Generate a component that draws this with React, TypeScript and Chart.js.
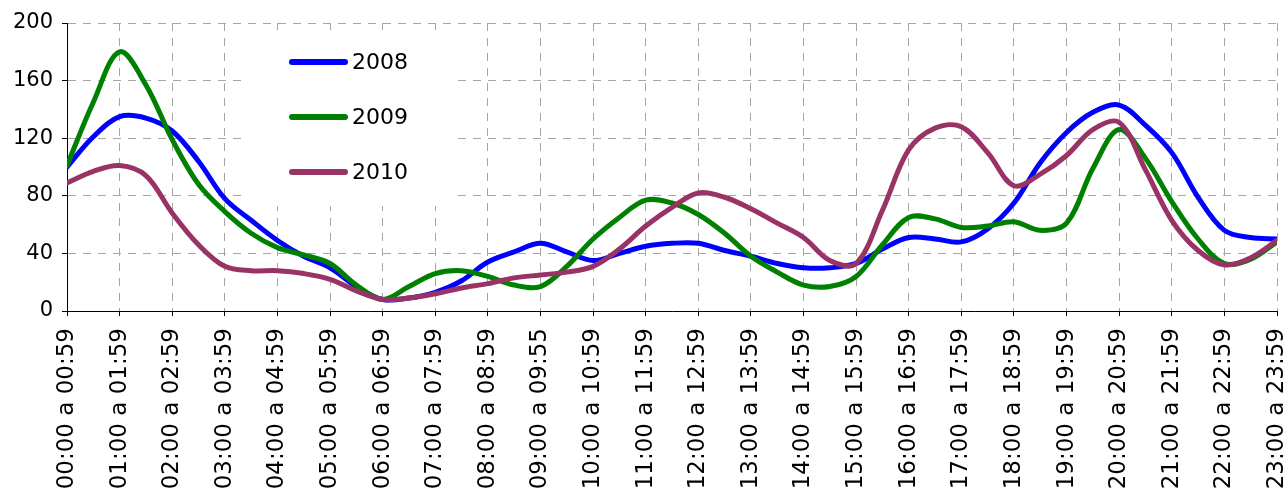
import { useEffect, useRef } from 'react';
import { Chart, registerables } from 'chart.js';

Chart.register(...registerables);

const hourLabels = [
  '00:00 a 00:59', '01:00 a 01:59', '02:00 a 02:59', '03:00 a 03:59',
  '04:00 a 04:59', '05:00 a 05:59', '06:00 a 06:59', '07:00 a 07:59',
  '08:00 a 08:59', '09:00 a 09:55', '10:00 a 10:59', '11:00 a 11:59',
  '12:00 a 12:59', '13:00 a 13:59', '14:00 a 14:59', '15:00 a 15:59',
  '16:00 a 16:59', '17:00 a 17:59', '18:00 a 18:59', '19:00 a 19:59',
  '20:00 a 20:59', '21:00 a 21:59', '22:00 a 22:59', '23:00 a 23:59',
];

// sample positions (hours from 00:00)
const hours = [
  0, 0.5, 1, 1.5, 2, 2.5, 3, 3.5, 4, 4.5, 5, 5.5, 6, 6.5, 7, 7.5,
  8, 8.5, 9, 9.5, 10, 10.5, 11, 11.5, 12, 12.5, 13, 13.5, 14, 14.5, 15, 15.5,
  16, 16.5, 17, 17.5, 18, 18.5, 19, 19.5, 20, 20.5, 21, 21.5, 22, 22.5, 23,
];

const values2008 = [
  100, 121, 135, 134, 125, 104, 78, 63, 49, 38, 30, 17, 8, 9, 13, 21,
  34, 41, 47, 41, 35, 40, 45, 47, 47, 42, 38, 33, 30, 30, 33, 43,
  51, 50, 48, 57, 75, 103, 124, 138, 143, 129, 110, 79, 56, 51, 50,
];

const values2009 = [
  101, 145, 180, 157, 119, 88, 69, 54, 44, 39, 33, 18, 8, 17, 26, 28,
  24, 18, 17, 31, 50, 65, 77, 75, 67, 54, 38, 27, 18, 17, 24, 46,
  65, 64, 58, 59, 62, 56, 61, 99, 126, 106, 76, 50, 33, 36, 48,
];

const values2010 = [
  89, 97, 101, 94, 68, 46, 31, 28, 28, 26, 22, 14, 8, 9, 12, 16,
  19, 23, 25, 27, 31, 43, 59, 72, 82, 79, 71, 61, 51, 35, 33, 70,
  112, 127, 128, 110, 87, 95, 108, 126, 131, 98, 63, 42, 32, 37, 49,
];

const seriesLabels = ['2008', '2009', '2010'];
const seriesColors = ['#0000ff', '#008000', '#993366'];
const yTicks = [0, 40, 80, 120, 160, 200];

const FONT = '"DejaVu Sans", Verdana, sans-serif';

const boxLegend = {
  id: 'boxLegend',
  beforeDatasetsDraw(chart: any) {
    const ctx = chart.ctx;
    const area = chart.chartArea;
    ctx.save();
    ctx.fillStyle = '#ffffff';
    ctx.fillRect(area.left + 176, area.top + 7, 209, 176);
    chart.data.datasets.forEach((ds: any, i: number) => {
      const y = area.top + 39 + i * 55;
      const x0 = area.left + 225;
      ctx.strokeStyle = ds.borderColor;
      ctx.lineWidth = 6;
      ctx.lineCap = 'round';
      ctx.beginPath();
      ctx.moveTo(x0, y);
      ctx.lineTo(x0 + 53, y);
      ctx.stroke();
      ctx.fillStyle = '#000';
      ctx.font = '22px ' + FONT;
      ctx.textBaseline = 'middle';
      ctx.textAlign = 'left';
      ctx.fillText(ds.label, x0 + 60, y + 1);
    });
    ctx.restore();
  },
};

export default function App() {
  const ref = useRef<HTMLCanvasElement | null>(null);

  useEffect(() => {
    if (!ref.current) return;
    const series = [values2008, values2009, values2010];
    const chart = new Chart(ref.current, {
      type: 'line',
      data: {
        datasets: series.map((vals, i) => ({
          label: seriesLabels[i],
          data: vals.map((v, j) => ({ x: hours[j], y: v })),
          borderColor: seriesColors[i],
          backgroundColor: seriesColors[i],
          borderWidth: 5,
          pointRadius: 0,
          tension: 0.35,
          borderJoinStyle: 'round',
          borderCapStyle: 'round',
          fill: false,
          order: 3 - i,
        })),
      },
      options: {
        responsive: false,
        animation: false,
        devicePixelRatio: 1,
        layout: { padding: { left: 0, right: 10, top: 23, bottom: 0 } },
        plugins: {
          legend: { display: false },
          tooltip: { enabled: false },
          title: { display: false },
        },
        scales: {
          x: {
            type: 'linear',
            min: 0,
            max: 23,
            afterFit: (s: any) => {
              s.height = 177;
              s.paddingRight = 10;
              s.paddingLeft = 0;
            },
            afterBuildTicks: (s: any) => {
              s.ticks = hourLabels.map((_, i) => ({ value: i }));
            },
            ticks: {
              autoSkip: false,
              minRotation: 90,
              maxRotation: 90,
              padding: 12,
              color: '#000',
              font: { family: FONT, size: 23 },
              callback: (v: any) => hourLabels[Math.round(Number(v))],
            },
            grid: {
              color: '#a6a6a6',
              lineWidth: 1,
              tickLength: 5,
              tickColor: '#000',
              tickBorderDash: [],
            },
            border: { display: true, color: '#000', width: 1, dash: [8, 7] },
          },
          y: {
            min: 0,
            max: 200,
            afterFit: (s: any) => {
              s.width = 67;
            },
            afterBuildTicks: (s: any) => {
              s.ticks = yTicks.map((v) => ({ value: v }));
            },
            ticks: {
              padding: 9,
              color: '#000',
              font: { family: FONT, size: 21 },
            },
            grid: {
              color: '#a6a6a6',
              lineWidth: 1,
              tickLength: 5,
              tickColor: '#000',
              tickBorderDash: [],
            },
            border: { display: true, color: '#000', width: 1, dash: [8, 7] },
          },
        },
      },
      plugins: [boxLegend],
    } as any);
    return () => chart.destroy();
  }, []);

  return (
    <div style={{ position: 'absolute', left: 0, top: 0, width: 1287, height: 488, background: '#fff' }}>
      <canvas ref={ref} width={1287} height={488} style={{ display: 'block' }} />
    </div>
  );
}
